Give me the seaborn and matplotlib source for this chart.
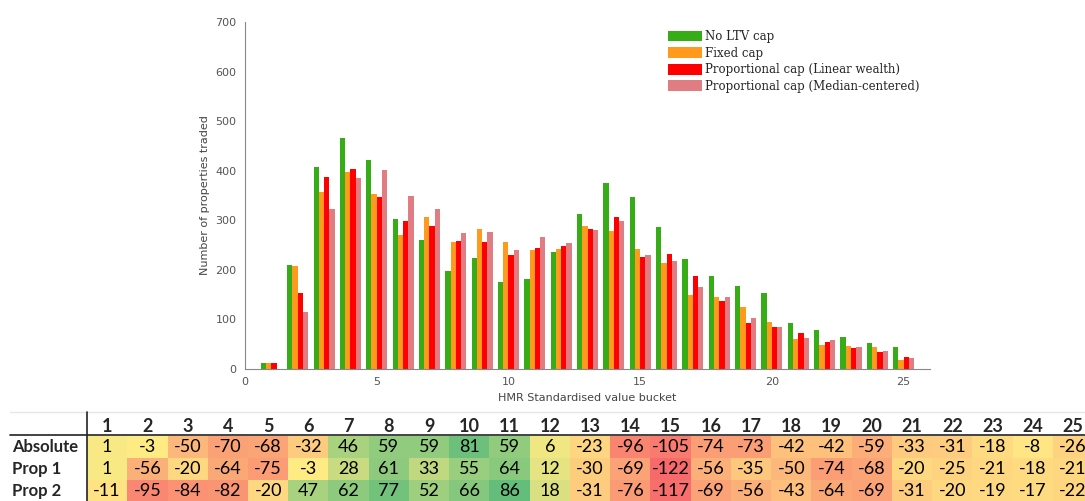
import numpy as np
import pandas as pd
import seaborn as sns
import matplotlib.pyplot as plt
from matplotlib.colors import LinearSegmentedColormap, TwoSlopeNorm
from matplotlib.lines import Line2D

# bar chart data
buckets = list(range(1, 26))
no_cap = [12, 210, 407, 467, 421, 302, 260, 197, 224, 175, 181, 236, 312, 375, 347,
          287, 222, 188, 167, 153, 93, 79, 64, 53, 45]
fixed_cap = [13, 207, 357, 397, 353, 270, 306, 256, 283, 256, 240, 242, 289, 279, 242,
             213, 149, 146, 125, 94, 60, 48, 46, 45, 19]
prop_linear = [13, 154, 387, 403, 346, 299, 288, 258, 257, 230, 245, 248, 282, 306, 225,
               231, 187, 138, 93, 85, 73, 54, 43, 35, 24]
prop_median = [1, 115, 323, 385, 401, 349, 322, 274, 276, 241, 267, 254, 281, 299, 230,
               218, 166, 145, 103, 84, 62, 59, 45, 36, 23]
series_names = ['No LTV cap', 'Fixed cap', 'Proportional cap (Linear wealth)',
                'Proportional cap (Median-centered)']
series_colors = ['#36ad16', '#ff9a1f', '#ff0000', '#e07d82']

# table data
row_labels = ['Absolute', 'Prop 1', 'Prop 2']
absolute = [1, -3, -50, -70, -68, -32, 46, 59, 59, 81, 59, 6, -23, -96, -105, -74, -73,
            -42, -42, -59, -33, -31, -18, -8, -26]
prop1 = [1, -56, -20, -64, -75, -3, 28, 61, 33, 55, 64, 12, -30, -69, -122, -56, -35,
         -50, -74, -68, -20, -25, -21, -18, -21]
prop2 = [-11, -95, -84, -82, -20, 47, 62, 77, 52, 66, 86, 18, -31, -76, -117, -69, -56,
         -43, -64, -69, -31, -20, -19, -17, -22]

W, H = 1085, 501
fig = plt.figure(figsize=(W / 100, H / 100), dpi=100)
sns.set_style('white')

# ---- bar chart ----
df = pd.DataFrame({
    'bucket': buckets * 4,
    'count': no_cap + fixed_cap + prop_linear + prop_median,
    'series': [s for s in series_names for _ in buckets],
})
ax = fig.add_axes([245 / W, (H - 369) / H, (930 - 245) / W, (369 - 22) / H])
sns.barplot(data=df, x='bucket', y='count', hue='series', hue_order=series_names,
            palette=series_colors, native_scale=True, width=0.8, saturation=1,
            linewidth=0, ax=ax)
ax.set_xlim(0, 26)
ax.set_ylim(0, 700)
ax.set_xticks(range(0, 26, 5))
ax.set_yticks(range(0, 701, 100))
ax.tick_params(direction='in', length=4, colors='#666666', labelsize=8,
               labelcolor='#555555', pad=6)
for s in ['top', 'right']:
    ax.spines[s].set_visible(False)
for s in ['left', 'bottom']:
    ax.spines[s].set_color('#888888')
    ax.spines[s].set_linewidth(0.8)
ax.set_xlabel('HMR Standardised value bucket', fontsize=8, color='#444444')
ax.set_ylabel('Number of properties traded', fontsize=8, color='#444444')
handles, labels = ax.get_legend_handles_labels()
ax.legend(handles, labels, frameon=False, loc='upper left',
          bbox_to_anchor=(0.611, 0.99), prop={'family': 'DejaVu Serif', 'size': 8.5},
          handlelength=2.9, handleheight=1.0, handletextpad=0.25, labelspacing=0.3,
          borderaxespad=0)

# ---- table as heatmap ----
tbl = pd.DataFrame([absolute, prop1, prop2], index=row_labels, columns=buckets)
cmap = LinearSegmentedColormap.from_list('excel', ['#f8696b', '#ffeb84', '#63be7b'])
norm = TwoSlopeNorm(vmin=-122, vcenter=-3, vmax=86)
col_w = 40.25
ax2 = fig.add_axes([87 / W, (H - 502) / H, 25 * col_w / W, (502 - 436) / H])
sns.heatmap(tbl, ax=ax2, cmap=cmap, norm=norm, cbar=False, annot=True, fmt='d',
            annot_kws={'color': 'black', 'fontsize': 13, 'family': 'Lato'},
            linewidths=0)
ax2.xaxis.tick_top()
ax2.tick_params(length=0, pad=1)
ax2.set_xlabel('')
ax2.set_ylabel('')
ax2.set_xticklabels([str(b) for b in buckets], fontsize=13, fontweight='bold',
                    family='Lato')
ax2.set_yticklabels(row_labels, rotation=0, fontsize=12, fontweight='bold',
                    family='Lato', ha='left')
ax2.tick_params(axis='y', pad=(87 - 12) * 0.72)

# table lines
fig.add_artist(Line2D([10 / W, 1], [(H - 412) / H] * 2, color='#e6e6e6', lw=1))
fig.add_artist(Line2D([10 / W, 1], [(H - 435) / H] * 2, color='#222222', lw=1.2))
fig.add_artist(Line2D([87 / W] * 2, [(H - 412) / H, 0], color='#222222', lw=1.2))

fig.savefig('out.png', dpi=100)
